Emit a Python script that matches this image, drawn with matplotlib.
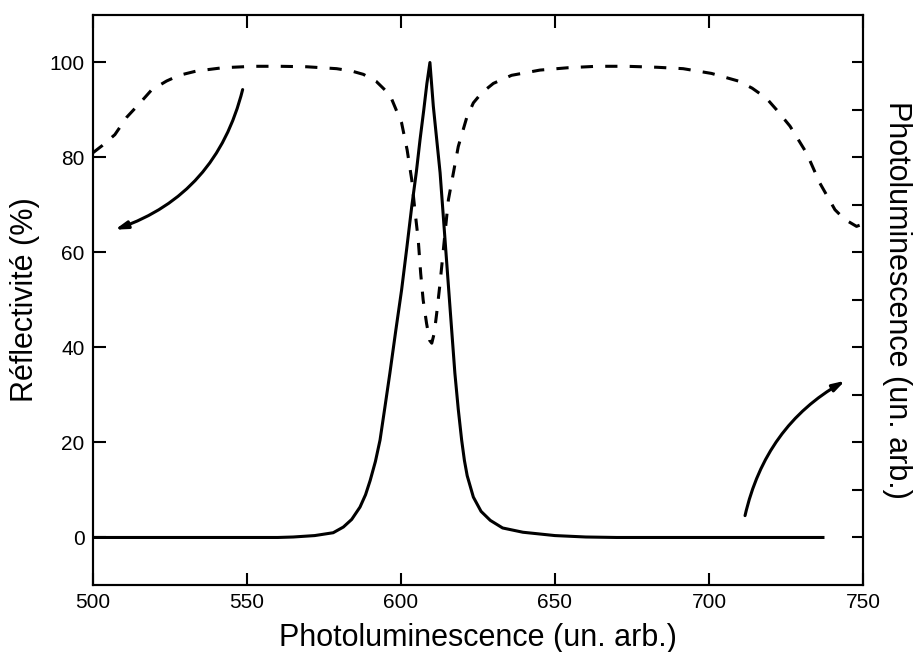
import matplotlib
matplotlib.use("Agg")
import matplotlib.pyplot as plt
import numpy as np

plt.rcParams['font.family'] = ['Liberation Sans', 'DejaVu Sans']

# photoluminescence (solid)
pl_x = [500, 560, 565, 572, 578, 581.3, 584, 586.7, 588.5, 590, 591.7, 593.2,
        594.8, 596.4, 598.3, 600.2, 601.9, 603.5, 605, 606.2, 607.4, 608.4,
        609.4, 610.5, 611.6, 612.7, 614.3, 615.9, 617.5, 618.6, 619.7, 620.6,
        621.5, 623.5, 626, 629, 633, 639.6, 650, 660, 670, 737]
pl_y = [0, 0, 0.1, 0.4, 1.0, 2.2, 3.8, 6.4, 9, 12, 16, 20.5,
        27.5, 34.6, 43.5, 52.1, 61, 69.7, 77, 83.8, 90, 95.5,
        100, 90.8, 83.8, 76.8, 62.7, 48.6, 34.6, 27, 20.5, 16.2,
        13, 8.5, 5.5, 3.6, 2.0, 1.1, 0.4, 0.1, 0, 0]

# reflectivity (dashed)
refl_x = [500, 503, 507.1, 511, 515.3, 519, 523.9, 528, 533.6, 542.2, 552,
          560.7, 569.4, 579.1, 584, 587.8, 592, 596.4, 600.2, 602, 603.5,
          604.5, 605.6, 606.4, 607.2, 608.3, 609.3, 610, 610.8, 611.6, 612.7,
          614.3, 615.4, 617, 618.6, 621.3, 623.5, 626.2, 630, 635.9, 645.1,
          654.3, 663.5, 673.2, 683, 691.6, 700.8, 709.5, 714, 718.6, 722,
          726.3, 731.7, 736, 740.9, 744, 747.9, 750]
refl_y = [81, 82.5, 84.8, 88.5, 91.5, 94.2, 96.1, 97.3, 98.2, 98.9, 99.2,
          99.2, 99.1, 98.7, 98.2, 97.5, 96, 93.2, 87.3, 81.6, 75.3,
          69, 62.7, 55.6, 50, 45.1, 41.5, 40.9, 43, 47.2, 53.6,
          64.1, 71.1, 76.7, 82.3, 88.3, 91.5, 93.6, 95.6, 97.3, 98.4,
          98.9, 99.2, 99.2, 99, 98.7, 97.7, 96.1, 94.6, 92.5, 90,
          86.6, 80.9, 74.6, 69, 67, 65.5, 66]

fig = plt.figure(figsize=(9.14, 6.52), dpi=100)
ax = fig.add_axes([0.1017, 0.1028, 0.8425, 0.8742])

ax.plot(pl_x, pl_y, color='black', lw=2.2, solid_joinstyle='round')
ax.plot(refl_x, refl_y, color='black', lw=2.2, dashes=(4, 4))

# curved arrows pointing to each axis
arrow = '-|>,head_length=0.6,head_width=0.18'
ax.annotate('', xy=(507.1, 64.8), xytext=(548.6, 94.3),
            arrowprops=dict(arrowstyle=arrow,
                            connectionstyle='arc3,rad=-0.27', lw=2.2,
                            color='black', mutation_scale=12,
                            shrinkA=0, shrinkB=0))
ax.annotate('', xy=(744.2, 33), xytext=(711.7, 4.6),
            arrowprops=dict(arrowstyle=arrow,
                            connectionstyle='arc3,rad=-0.22', lw=2.2,
                            color='black', mutation_scale=12,
                            shrinkA=0, shrinkB=0))

ax.set_xlim(500, 750)
ax.set_ylim(-10, 110)
ax.set_xticks([500, 550, 600, 650, 700, 750])
ax.set_yticks([0, 20, 40, 60, 80, 100])
ax.tick_params(axis='both', direction='in', length=9, width=1.5,
               labelsize=15, top=True, pad=6)
ax.tick_params(axis='y', right=False)
for s in ax.spines.values():
    s.set_linewidth(1.5)

ax.set_xlabel('Photoluminescence (un. arb.)', fontsize=22, labelpad=8)
ax.set_ylabel('Réflectivité (%)', fontsize=22, labelpad=7)

ax2 = ax.twinx()
ax2.set_ylim(-10, 110)
ax2.set_yticks(np.arange(0, 101, 10))
ax2.set_yticklabels([])
ax2.tick_params(axis='y', direction='in', length=8, width=1.5)
for s in ax2.spines.values():
    s.set_linewidth(1.5)
ax2.set_ylabel('Photoluminescence (un. arb.)', fontsize=22, rotation=270,
               labelpad=32)

fig.savefig('out.png', dpi=100)
